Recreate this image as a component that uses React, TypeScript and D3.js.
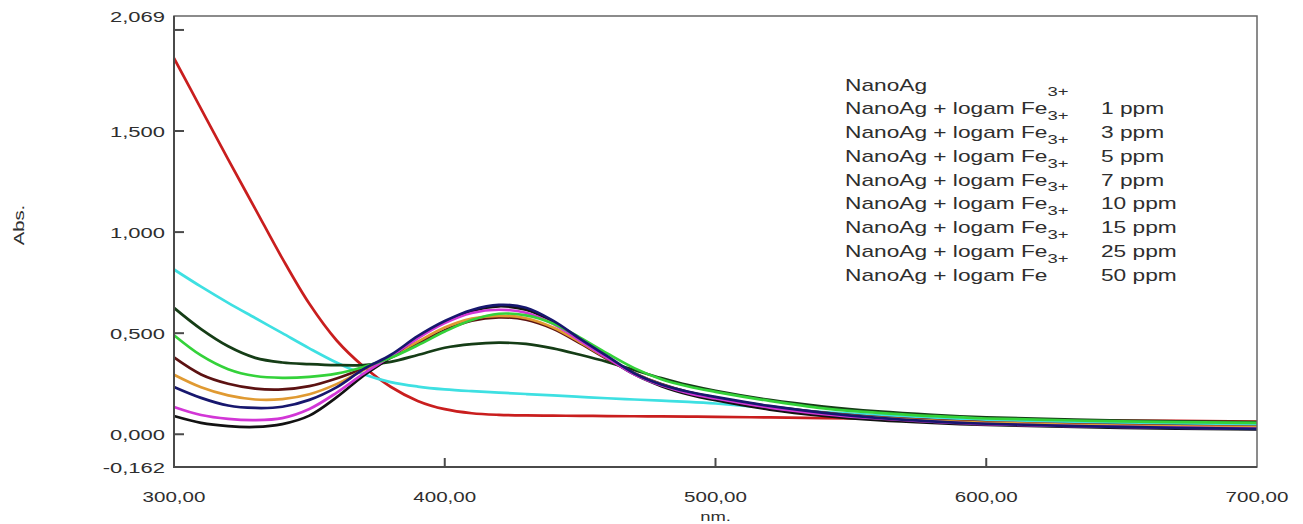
import React, { useEffect, useRef } from "react";
import * as d3 from "d3";

// wavelength grid (nm)
const wavelengths = [
	300, 310, 320, 330, 340, 350, 360, 370, 380, 390, 400, 410, 420, 430, 440,
	450, 460, 470, 480, 490, 500, 520, 540, 560, 580, 600, 650, 700,
];

// absorbance per curve
const redCurve = [
	1.86, 1.61, 1.36, 1.115, 0.87, 0.645, 0.465, 0.335, 0.235, 0.165, 0.124,
	0.104, 0.096, 0.093, 0.092, 0.091, 0.09, 0.089, 0.088, 0.087, 0.086, 0.083,
	0.08, 0.078, 0.075, 0.072, 0.068, 0.063,
];
const cyanCurve = [
	0.815, 0.73, 0.65, 0.575, 0.5, 0.425, 0.355, 0.297, 0.258, 0.236, 0.222,
	0.213, 0.206, 0.199, 0.192, 0.185, 0.178, 0.172, 0.166, 0.16, 0.152, 0.13,
	0.11, 0.095, 0.082, 0.072, 0.056, 0.046,
];
const darkGreenCurve = [
	0.625, 0.52, 0.435, 0.378, 0.355, 0.347, 0.342, 0.342, 0.358, 0.392, 0.428,
	0.446, 0.453, 0.447, 0.425, 0.393, 0.358, 0.318, 0.278, 0.243, 0.215, 0.17,
	0.137, 0.113, 0.096, 0.084, 0.068, 0.06,
];
const maroonCurve = [
	0.38, 0.296, 0.25, 0.226, 0.222, 0.238, 0.276, 0.326, 0.378, 0.448, 0.515,
	0.562, 0.578, 0.567, 0.522, 0.45, 0.372, 0.302, 0.248, 0.209, 0.182, 0.138,
	0.107, 0.085, 0.07, 0.059, 0.045, 0.037,
];
const orangeCurve = [
	0.294, 0.232, 0.192, 0.172, 0.174, 0.198, 0.248, 0.318, 0.384, 0.458, 0.528,
	0.572, 0.586, 0.574, 0.528, 0.455, 0.376, 0.302, 0.246, 0.207, 0.18, 0.136,
	0.105, 0.083, 0.068, 0.057, 0.043, 0.035,
];
const blackCurve = [
	0.09, 0.056, 0.04, 0.036, 0.05, 0.092, 0.182, 0.29, 0.38, 0.478, 0.555, 0.61,
	0.633, 0.616, 0.556, 0.466, 0.378, 0.296, 0.238, 0.197, 0.168, 0.122, 0.091,
	0.07, 0.056, 0.046, 0.032, 0.024,
];
const magentaCurve = [
	0.135, 0.095, 0.076, 0.07, 0.08, 0.125, 0.205, 0.3, 0.385, 0.475, 0.55, 0.6,
	0.616, 0.601, 0.546, 0.462, 0.377, 0.297, 0.242, 0.203, 0.177, 0.132, 0.1,
	0.078, 0.062, 0.05, 0.036, 0.028,
];
const greenCurve = [
	0.49, 0.39, 0.322, 0.288, 0.279, 0.284, 0.3, 0.333, 0.378, 0.44, 0.508, 0.565,
	0.596, 0.588, 0.548, 0.478, 0.4, 0.327, 0.272, 0.236, 0.21, 0.165, 0.128,
	0.106, 0.09, 0.078, 0.064, 0.056,
];
const navyCurve = [
	0.234, 0.18, 0.142, 0.13, 0.136, 0.17, 0.232, 0.322, 0.392, 0.485, 0.56,
	0.615, 0.64, 0.626, 0.562, 0.472, 0.386, 0.302, 0.246, 0.21, 0.185, 0.14,
	0.106, 0.081, 0.064, 0.052, 0.036, 0.027,
];

const curves = [
	redCurve, cyanCurve, darkGreenCurve, maroonCurve, orangeCurve,
	blackCurve, magentaCurve, greenCurve, navyCurve,
];
const curveColors = [
	"#c91e1e", "#3ee0e2", "#153d16", "#5c1212", "#e09a32",
	"#121212", "#d236d6", "#34d23a", "#17176e",
];

const legendBase = "NanoAg + logam Fe";
const legendDoses = ["1 ppm", "3 ppm", "5 ppm", "7 ppm", "10 ppm", "15 ppm", "25 ppm", "50 ppm"];

const yTickMarks = [0, 0.5, 1, 1.5, 2];
const yLabelValues = [-0.162, 0, 0.5, 1, 1.5, 2.069];
const xTickValues = [300, 400, 500, 600, 700];

const App = () => {
	const svgRef = useRef(null);

	useEffect(() => {
		const width = 1303;
		const height = 524;
		const left = 174;
		const right = 1257;
		const top = 16;
		const bottom = 467;
		const stretch = 1.42; // the reference text is stretched sideways
		const textColor = "#2e2e2e";
		const font = "'Liberation Sans', Arial, sans-serif";

		const svg = d3.select(svgRef.current);
		svg.selectAll("*").remove();
		svg.attr("width", width).attr("height", height);

		const x = d3.scaleLinear().domain([300, 700]).range([left, right]);
		const y = d3.scaleLinear().domain([-0.162, 2.069]).range([bottom, top]);

		const addText = (g, px, py, str, size, anchor) =>
			g
				.append("text")
				.attr("transform", `translate(${px},${py}) scale(${stretch},1)`)
				.attr("text-anchor", anchor)
				.style("font-family", font)
				.style("font-size", `${size}px`)
				.style("fill", textColor)
				.text(str);

		// curves
		const line = d3
			.line()
			.x((d) => x(d[0]))
			.y((d) => y(d[1]))
			.curve(d3.curveCatmullRom.alpha(0.5));

		const plot = svg.append("g");
		curves.forEach((vals, i) => {
			plot
				.append("path")
				.attr("d", line(wavelengths.map((w, j) => [w, vals[j]])))
				.attr("fill", "none")
				.attr("stroke", curveColors[i])
				.attr("stroke-width", 2.7)
				.attr("stroke-linejoin", "round");
		});

		// frame
		svg
			.append("rect")
			.attr("x", left)
			.attr("y", top)
			.attr("width", right - left)
			.attr("height", bottom - top)
			.attr("fill", "none")
			.attr("stroke", "#666")
			.attr("stroke-width", 1.5);
		svg
			.append("path")
			.attr("d", `M${left},${top}V${bottom}H${right}`)
			.attr("fill", "none")
			.attr("stroke", "#4a4a4a")
			.attr("stroke-width", 2);

		// ticks (inward)
		yTickMarks.forEach((v) => {
			svg
				.append("line")
				.attr("x1", left)
				.attr("x2", left + 10)
				.attr("y1", y(v))
				.attr("y2", y(v))
				.attr("stroke", "#4a4a4a")
				.attr("stroke-width", 2);
		});
		xTickValues.slice(1, -1).forEach((v) => {
			svg
				.append("line")
				.attr("x1", x(v))
				.attr("x2", x(v))
				.attr("y1", bottom)
				.attr("y2", bottom - 9)
				.attr("stroke", "#4a4a4a")
				.attr("stroke-width", 2);
		});

		// tick labels, decimal comma and plain hyphen
		const fmtY = d3.format(".3f");
		const fmtX = d3.format(".2f");
		const axisText = svg.append("g");
		yLabelValues.forEach((v) => {
			const label = fmtY(v).replace("\u2212", "-").replace(".", ",");
			addText(axisText, 165, y(v) + 5.5, label, 15.5, "end");
		});
		xTickValues.forEach((v) => {
			addText(axisText, x(v), 502, fmtX(v).replace(".", ","), 14.5, "middle");
		});

		addText(axisText, (left + right) / 2, 521, "nm.", 13, "middle");
		axisText
			.append("text")
			.attr("transform", "translate(24,225) rotate(-90) scale(1.35,1)")
			.attr("text-anchor", "middle")
			.style("font-family", font)
			.style("font-size", "15px")
			.style("fill", textColor)
			.text("Abs.");

		// legend (text only)
		const legend = svg.append("g");
		const rowY = (i) => 90.5 + 23.75 * i;
		addText(legend, 845, rowY(0), "NanoAg", 16, "start");
		legendDoses.forEach((dose, i) => {
			const t = addText(legend, 845, rowY(i + 1), legendBase, 16, "start");
			t.append("tspan").attr("dy", -18).style("font-size", "13px").text("3+");
			addText(legend, 1101, rowY(i + 1), dose, 16, "start");
		});
	}, []);

	return (
		<div style={{ position: "absolute", left: 0, top: 0, background: "#fff" }}>
			<svg ref={svgRef} style={{ display: "block" }}></svg>
		</div>
	);
};

export default App;
